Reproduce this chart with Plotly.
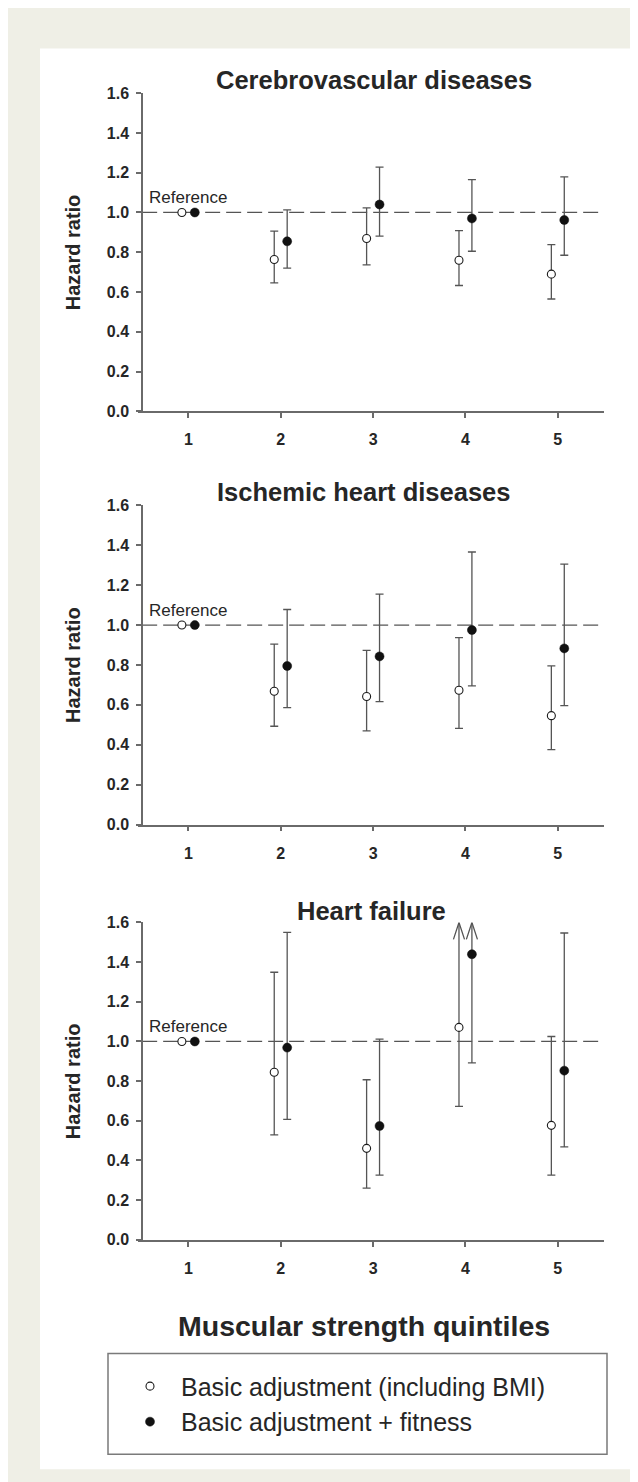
import math
import plotly.graph_objects as go

W, H = 638, 1482

# ---------------- data ----------------
quintiles = [1, 2, 3, 4, 5]
quintile_labels = ["1", "2", "3", "4", "5"]
y_ticks = [0.0, 0.2, 0.4, 0.6, 0.8, 1.0, 1.2, 1.4, 1.6]
reference_hr = 1.0

panel_titles = ["Cerebrovascular diseases", "Ischemic heart diseases", "Heart failure"]
x_title = "Muscular strength quintiles"
y_title = "Hazard ratio"
reference_label = "Reference"
series_names = ["Basic adjustment (including BMI)", "Basic adjustment + fitness"]

# None = no confidence interval (reference group); math.inf = upper limit beyond the axis (arrow)
cvd_basic_hr = [1.0, 0.764, 0.869, 0.760, 0.690]
cvd_basic_lo = [None, 0.646, 0.737, 0.633, 0.565]
cvd_basic_hi = [None, 0.906, 1.023, 0.909, 0.838]
cvd_fit_hr = [1.0, 0.855, 1.040, 0.970, 0.962]
cvd_fit_lo = [None, 0.720, 0.881, 0.805, 0.785]
cvd_fit_hi = [None, 1.013, 1.228, 1.165, 1.179]

ihd_basic_hr = [1.0, 0.668, 0.642, 0.673, 0.546]
ihd_basic_lo = [None, 0.493, 0.470, 0.482, 0.376]
ihd_basic_hi = [None, 0.904, 0.873, 0.937, 0.795]
ihd_fit_hr = [1.0, 0.795, 0.843, 0.975, 0.883]
ihd_fit_lo = [None, 0.586, 0.616, 0.695, 0.596]
ihd_fit_hi = [None, 1.078, 1.155, 1.366, 1.305]

hf_basic_hr = [1.0, 0.845, 0.461, 1.071, 0.577]
hf_basic_lo = [None, 0.529, 0.261, 0.673, 0.326]
hf_basic_hi = [None, 1.349, 0.807, math.inf, 1.025]
hf_fit_hr = [1.0, 0.969, 0.574, 1.440, 0.853]
hf_fit_lo = [None, 0.607, 0.326, 0.892, 0.469]
hf_fit_hi = [None, 1.550, 1.012, math.inf, 1.547]

panels = [
    ((cvd_basic_hr, cvd_basic_lo, cvd_basic_hi), (cvd_fit_hr, cvd_fit_lo, cvd_fit_hi)),
    ((ihd_basic_hr, ihd_basic_lo, ihd_basic_hi), (ihd_fit_hr, ihd_fit_lo, ihd_fit_hi)),
    ((hf_basic_hr, hf_basic_lo, hf_basic_hi), (hf_fit_hr, hf_fit_lo, hf_fit_hi)),
]

# ---------------- style / layout (pixels) ----------------
FONT = "Liberation Sans, Arial, Helvetica, sans-serif"
BEIGE = "#efefe6"
TXT = "#262626"
AX = "#6a6a6a"
ERR = "#555555"
xline_left, yaxis_px, plot_right = 130, 134, 596
x_range = [0.455, 5.5]
x_axis_start = 0.5
panel_px = [(78, 400), (495, 818), (917, 1238)]      # (top, bottom) of each plot area
title_px = [(366, 65), (355, 482), (363, 905)]       # (x, y) centre of each title
x_offsets = [-0.07, 0.07]
y_max = 1.6
arrow_dx, arrow_dy = 0.06, 0.085


def px_x(p):
    return p / W


def px_y(p):
    return 1 - p / H


fig = go.Figure()

series_styles = [
    dict(symbol="circle", size=8, color="white", line=dict(color="#1a1a1a", width=1.1)),
    dict(symbol="circle", size=9, color="#111111", line=dict(color="#111111", width=0.5)),
]

for p, series in enumerate(panels):
    xa = "x" if p == 0 else f"x{p + 1}"
    ya = "y" if p == 0 else f"y{p + 1}"
    # arrows for truncated upper limits (drawn first, so markers stay on top)
    for s, (hr, lo, hi) in enumerate(series):
        ax_x, ax_y = [], []
        for q, v, h in zip(quintiles, hr, hi):
            if h is not None and math.isinf(h):
                xx = q + x_offsets[s]
                ax_x += [xx, xx, None, xx - arrow_dx, xx, xx + arrow_dx, None]
                ax_y += [v, y_max, None, y_max - arrow_dy, y_max, y_max - arrow_dy, None]
        if ax_x:
            fig.add_trace(go.Scatter(
                x=ax_x, y=ax_y, xaxis=xa, yaxis=ya, mode="lines",
                line=dict(color=ERR, width=1.3), showlegend=False,
                hoverinfo="skip", cliponaxis=False))
    for s, (hr, lo, hi) in enumerate(series):
        plus = [0 if (h is None or math.isinf(h)) else h - v for v, h in zip(hr, hi)]
        minus = [0 if l is None else v - l for v, l in zip(hr, lo)]
        fig.add_trace(go.Scatter(
            x=[q + x_offsets[s] for q in quintiles], y=hr,
            xaxis=xa, yaxis=ya, mode="markers",
            name=series_names[s], legendgroup=series_names[s],
            showlegend=(p == 0),
            marker=series_styles[s],
            error_y=dict(type="data", symmetric=False, array=plus, arrayminus=minus,
                         color=ERR, thickness=1.3, width=4),
            cliponaxis=False,
        ))

axis_common = dict(showgrid=False, zeroline=False, showline=True, linecolor=AX, linewidth=1.5,
                   ticks="outside", ticklen=5, tickwidth=1.5, tickcolor=AX,
                   tickfont=dict(family=FONT, size=16, color=TXT, weight="bold"))

layout = dict(
    width=W, height=H, margin=dict(l=0, r=0, t=0, b=0),
    paper_bgcolor=BEIGE, plot_bgcolor="white",
    font=dict(family=FONT, color=TXT),
    showlegend=True,
    legend=dict(x=px_x(111), y=px_y(1404), xanchor="left", yanchor="middle",
                bgcolor="rgba(0,0,0,0)", borderwidth=0, itemwidth=52,
                font=dict(family=FONT, size=25, color=TXT), tracegroupgap=0),
)

shapes = [dict(type="rect", xref="paper", yref="paper", layer="below",
               x0=px_x(32), x1=px_x(624), y0=px_y(1470), y1=px_y(33),
               fillcolor="white", line=dict(width=0)),
          dict(type="rect", xref="paper", yref="paper", layer="below",
               x0=px_x(100), x1=px_x(599), y0=px_y(1455), y1=px_y(1353),
               fillcolor="white", line=dict(color="#7a7a7a", width=1.5))]
annotations = []

for p, (top, bottom) in enumerate(panel_px):
    suffix = "" if p == 0 else str(p + 1)
    layout[f"xaxis{suffix}"] = dict(axis_common, domain=[px_x(xline_left), px_x(plot_right)],
                                   range=x_range, tickvals=quintiles, ticktext=quintile_labels,
                                   anchor=f"y{suffix}", ticklabelstandoff=8)
    layout[f"yaxis{suffix}"] = dict(axis_common, domain=[px_y(bottom), px_y(top)],
                                   range=[0, y_max], tickvals=y_ticks, tickformat=".1f",
                                   anchor="free", position=px_x(yaxis_px), ticklabelstandoff=4)
    shapes.append(dict(type="line", xref=f"x{suffix}", yref=f"y{suffix}", layer="below",
                       x0=x_axis_start, x1=x_range[1], y0=reference_hr, y1=reference_hr,
                       line=dict(color=ERR, width=1.3, dash="15px,6px")))
    annotations.append(dict(xref=f"x{suffix}", yref=f"y{suffix}", x=quintiles[0], y=reference_hr,
                            yshift=15, text=reference_label, showarrow=False,
                            font=dict(family=FONT, size=17, color=TXT)))
    tx, ty = title_px[p]
    annotations.append(dict(xref="paper", yref="paper", x=px_x(tx), y=px_y(ty),
                            xanchor="center", yanchor="middle", text=panel_titles[p], showarrow=False,
                            font=dict(family=FONT, size=25.5, color=TXT, weight="bold")))
    annotations.append(dict(xref="paper", yref="paper", x=px_x(65), y=px_y((top + bottom) / 2),
                            xanchor="center", yanchor="middle", text=y_title, textangle=-90,
                            showarrow=False,
                            font=dict(family=FONT, size=20, color=TXT, weight="bold")))

annotations.append(dict(xref="paper", yref="paper", x=px_x(356), y=px_y(1325),
                        xanchor="center", yanchor="middle", text=x_title, showarrow=False,
                        font=dict(family=FONT, size=28.5, color=TXT, weight="bold")))

layout["shapes"] = shapes
layout["annotations"] = annotations
fig.update_layout(**layout)

fig.write_html("out.html")
